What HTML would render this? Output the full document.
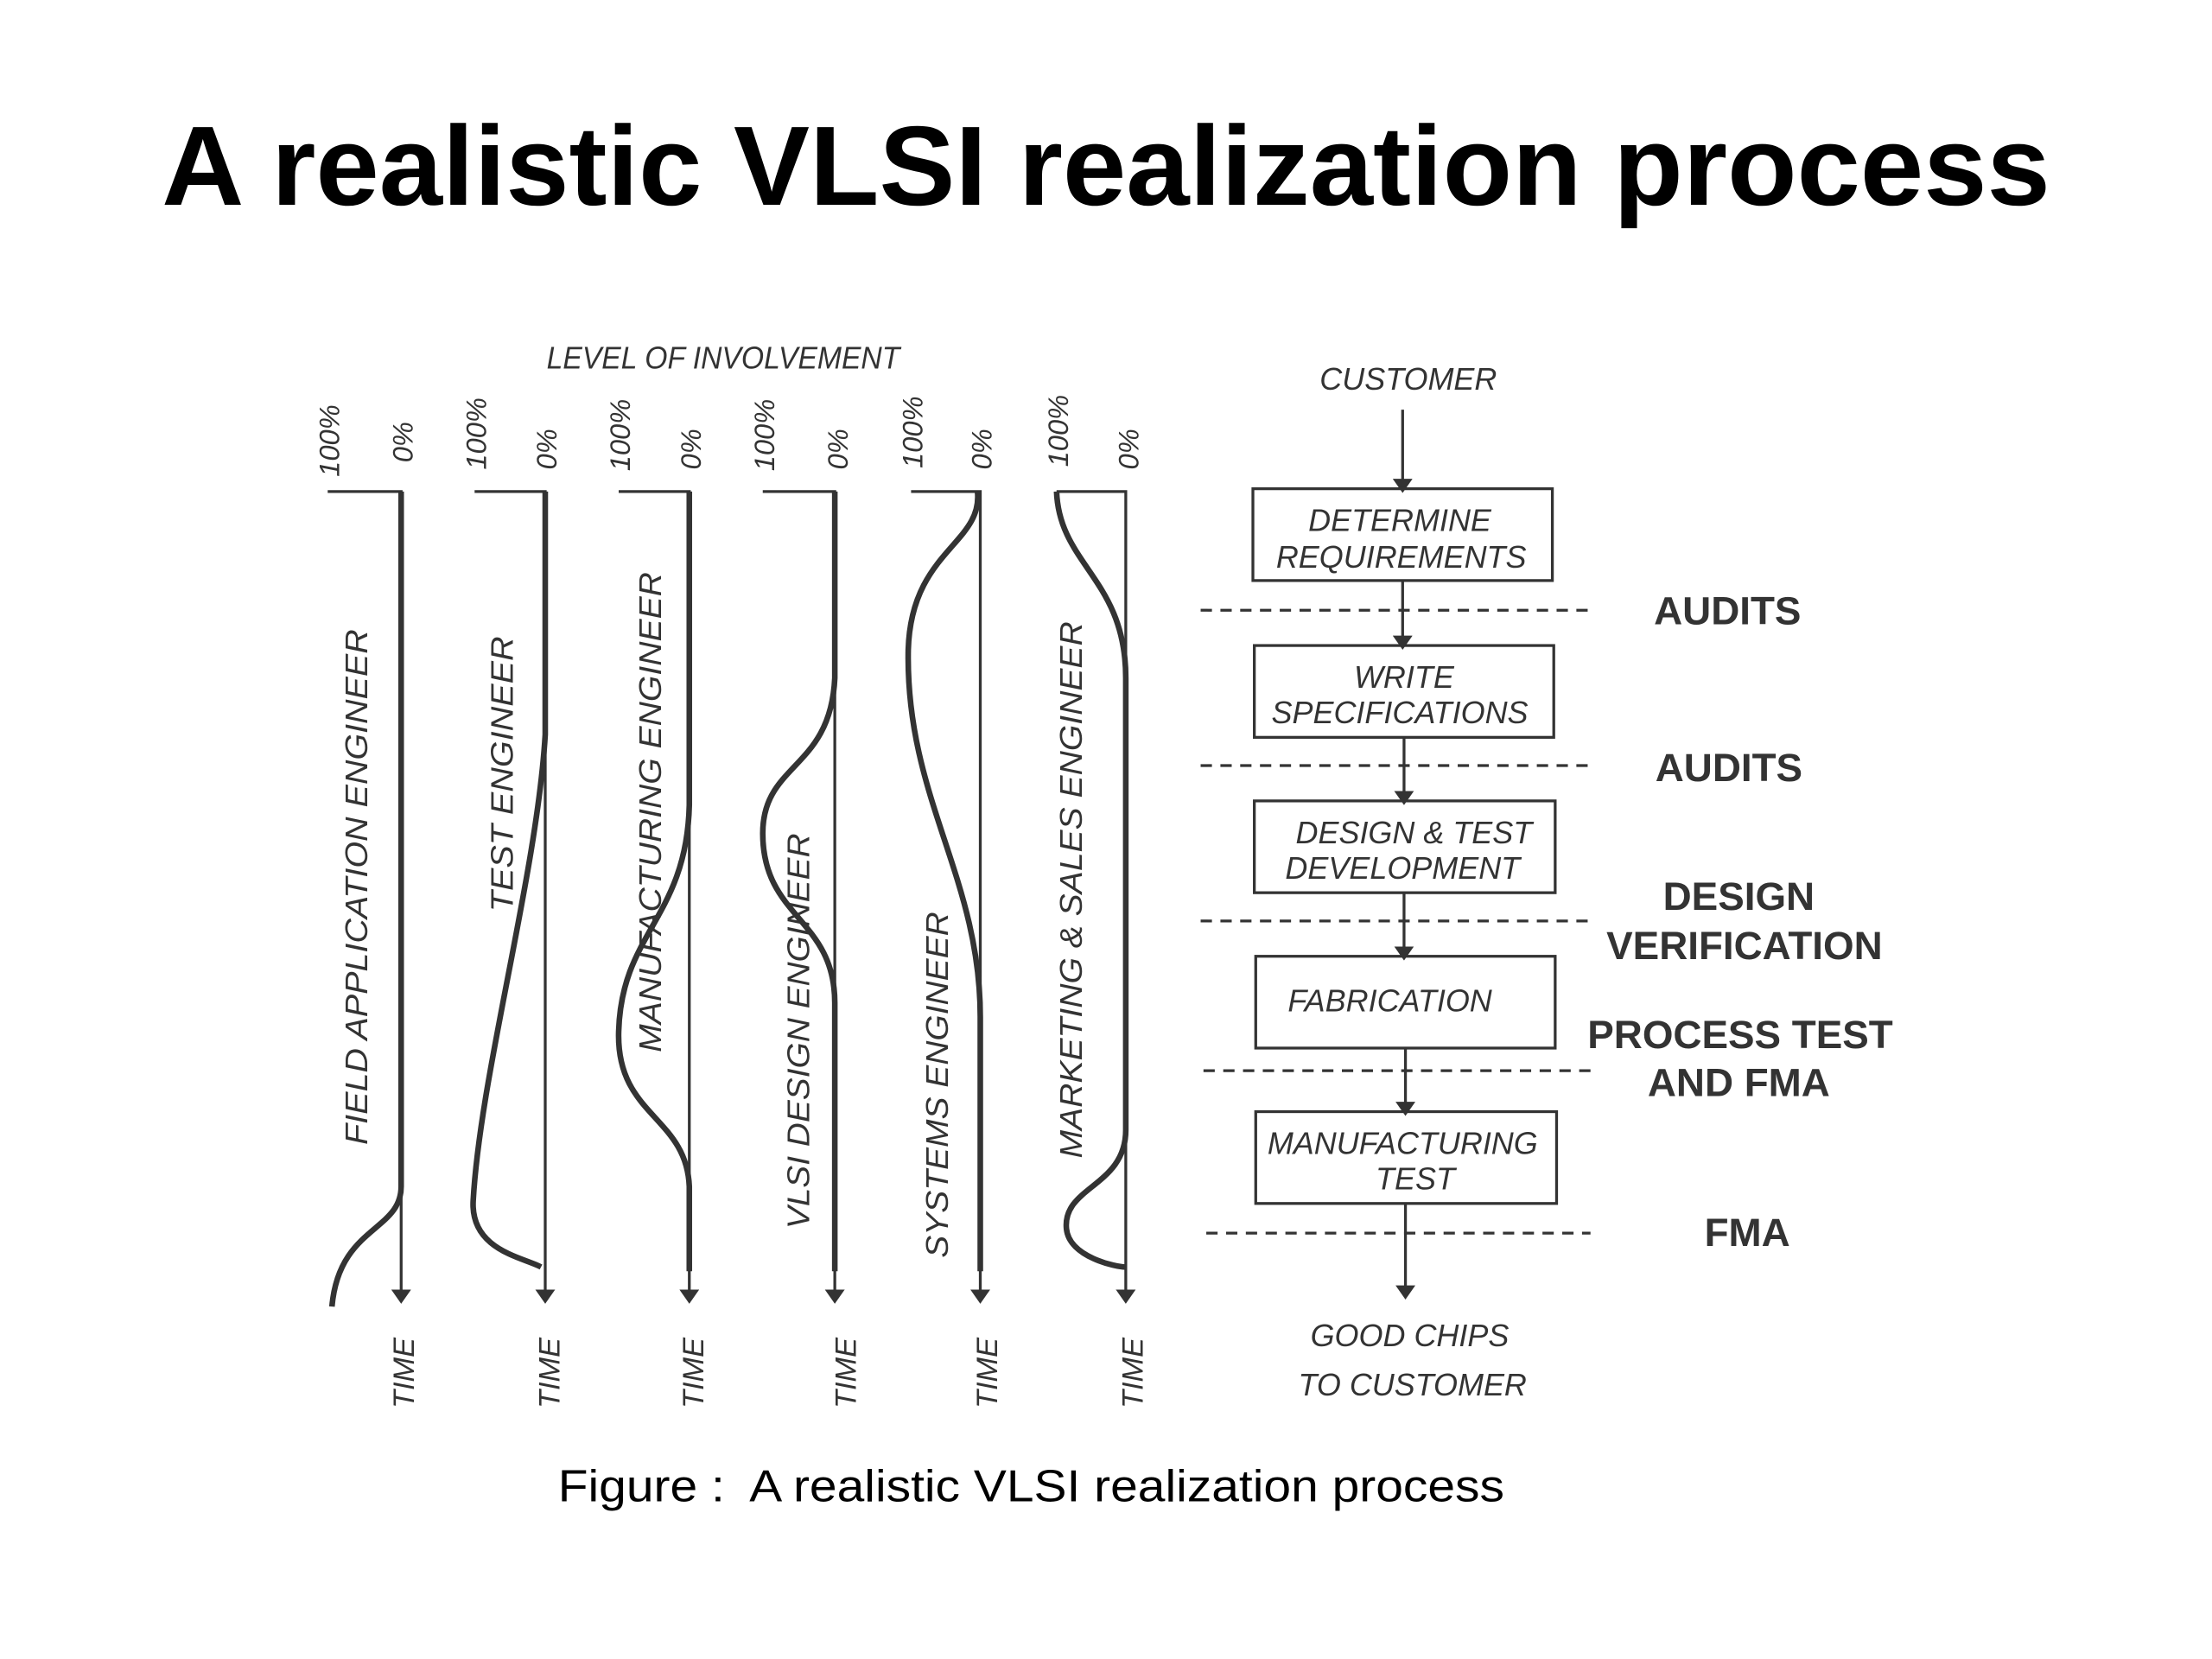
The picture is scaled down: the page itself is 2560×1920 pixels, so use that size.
<!DOCTYPE html>
<html><head><meta charset="utf-8"><style>
html,body{margin:0;padding:0;background:#fff;}
svg{display:block;}
</style></head><body>
<svg width="2560" height="1920" viewBox="0 0 1566 1174.5" preserveAspectRatio="none" xmlns="http://www.w3.org/2000/svg">
<rect width="1570" height="1180" fill="#fff"/>
<defs>
<marker id="ad" markerWidth="10" markerHeight="14" refX="5" refY="7" orient="auto" markerUnits="userSpaceOnUse">
<path d="M0,0 L10,7 L0,14 Z" fill="#333"/>
</marker>
</defs>
<text x="783" y="145" text-anchor="middle" font-family="Liberation Sans, sans-serif" font-weight="bold" font-size="80" textLength="1337" lengthAdjust="spacingAndGlyphs" fill="#000">A realistic VLSI realization process</text>

<text x="512" y="261" text-anchor="middle" font-family="Liberation Sans, sans-serif" font-style="italic" font-size="22" fill="#333" textLength="250" lengthAdjust="spacingAndGlyphs">LEVEL OF INVOLVEMENT</text>

<g stroke="#333" fill="none">
<g stroke-width="2">
<path d="M232,348 L284,348 L284,918" marker-end="url(#ad)"/>
<path d="M336,348 L386,348 L386,918" marker-end="url(#ad)"/>
<path d="M438,348 L488,348 L488,918" marker-end="url(#ad)"/>
<path d="M540,348 L591,348 L591,918" marker-end="url(#ad)"/>
<path d="M645,348 L694,348 L694,918" marker-end="url(#ad)"/>
<path d="M748,348 L797,348 L797,918" marker-end="url(#ad)"/>
</g>
<g stroke-width="4">
<path d="M284,348 L284,840 C284,872 240,868 235,925"/>
<path d="M386,348 L386,520 C380,620 340,760 335,850 C333,885 370,890 383,897"/>
<path d="M488,348 L488,570 C486,650 440,660 438,730 C436,790 486,790 488,840 L488,900"/>
<path d="M591,348 L591,480 C588,545 540,540 540,590 C540,650 591,650 591,710 L591,900"/>
<path d="M692,348 C696,385 645,390 643,460 C641,565 694,620 694,720 L694,900"/>
<path d="M748,348 C750,400 797,410 797,480 L797,800 C797,840 752,840 755,870 C757,890 790,897 797,897"/>
</g>
</g>

<g font-family="Liberation Sans, sans-serif" font-style="italic" font-size="20" fill="#333">
<text transform="translate(240,312) rotate(-90)" text-anchor="middle">100%</text>
<text transform="translate(292,313) rotate(-90)" text-anchor="middle">0%</text>
<text transform="translate(344,307) rotate(-90)" text-anchor="middle">100%</text>
<text transform="translate(394,318) rotate(-90)" text-anchor="middle">0%</text>
<text transform="translate(446,308) rotate(-90)" text-anchor="middle">100%</text>
<text transform="translate(496,318) rotate(-90)" text-anchor="middle">0%</text>
<text transform="translate(548,308) rotate(-90)" text-anchor="middle">100%</text>
<text transform="translate(600,318) rotate(-90)" text-anchor="middle">0%</text>
<text transform="translate(653,306) rotate(-90)" text-anchor="middle">100%</text>
<text transform="translate(702,318) rotate(-90)" text-anchor="middle">0%</text>
<text transform="translate(756,305) rotate(-90)" text-anchor="middle">100%</text>
<text transform="translate(806,318) rotate(-90)" text-anchor="middle">0%</text>
</g>
<g font-family="Liberation Sans, sans-serif" font-style="italic" font-size="21" fill="#333">
<text transform="translate(293,972) rotate(-90)" text-anchor="middle">TIME</text>
<text transform="translate(396,972) rotate(-90)" text-anchor="middle">TIME</text>
<text transform="translate(498,972) rotate(-90)" text-anchor="middle">TIME</text>
<text transform="translate(606,972) rotate(-90)" text-anchor="middle">TIME</text>
<text transform="translate(706,972) rotate(-90)" text-anchor="middle">TIME</text>
<text transform="translate(809,972) rotate(-90)" text-anchor="middle">TIME</text>
</g>
<g font-family="Liberation Sans, sans-serif" font-style="italic" font-size="22" fill="#333">
<text transform="translate(260,628) rotate(-90)" text-anchor="middle" textLength="365" lengthAdjust="spacingAndGlyphs">FIELD APPLICATION ENGINEER</text>
<text transform="translate(363,548) rotate(-90)" text-anchor="middle" textLength="195" lengthAdjust="spacingAndGlyphs">TEST ENGINEER</text>
<text transform="translate(468,575) rotate(-90)" text-anchor="middle" textLength="340" lengthAdjust="spacingAndGlyphs">MANUFACTURING ENGINEER</text>
<text transform="translate(573,730) rotate(-90)" text-anchor="middle" textLength="280" lengthAdjust="spacingAndGlyphs">VLSI DESIGN ENGINEER</text>
<text transform="translate(671,768) rotate(-90)" text-anchor="middle" textLength="245" lengthAdjust="spacingAndGlyphs">SYSTEMS ENGINEER</text>
<text transform="translate(766,630) rotate(-90)" text-anchor="middle" textLength="380" lengthAdjust="spacingAndGlyphs">MARKETING &amp; SALES ENGINEER</text>
</g>

<g stroke="#333" stroke-width="2" fill="none">
<line x1="993" y1="290" x2="993" y2="344" marker-end="url(#ad)"/>
<rect x="887" y="346" width="212" height="65"/>
<rect x="888" y="457" width="212" height="65"/>
<rect x="888" y="567" width="213" height="65"/>
<rect x="889" y="677" width="212" height="65"/>
<rect x="889" y="787" width="213" height="65"/>
<line x1="993" y1="411" x2="993" y2="455" marker-end="url(#ad)"/>
<line x1="994" y1="522" x2="994" y2="565" marker-end="url(#ad)"/>
<line x1="994" y1="632" x2="994" y2="675" marker-end="url(#ad)"/>
<line x1="995" y1="742" x2="995" y2="785" marker-end="url(#ad)"/>
<line x1="995" y1="852" x2="995" y2="915" marker-end="url(#ad)"/>
<g stroke-dasharray="8,6">
<line x1="850" y1="432" x2="1126" y2="432"/>
<line x1="850" y1="542" x2="1126" y2="542"/>
<line x1="850" y1="652" x2="1126" y2="652"/>
<line x1="852" y1="758" x2="1126" y2="758"/>
<line x1="854" y1="873" x2="1126" y2="873"/>
</g>
</g>
<g font-family="Liberation Sans, sans-serif" font-style="italic" font-size="22" fill="#333" text-anchor="middle">
<text x="997" y="276">CUSTOMER</text>
<text x="991" y="376">DETERMINE</text>
<text x="992" y="402">REQUIREMENTS</text>
<text x="994" y="487">WRITE</text>
<text x="991" y="512">SPECIFICATIONS</text>
<text x="1001" y="597">DESIGN &amp; TEST</text>
<text x="993" y="622">DEVELOPMENT</text>
<text x="984" y="716">FABRICATION</text>
<text x="993" y="817">MANUFACTURING</text>
<text x="1002" y="842">TEST</text>
<text x="998" y="953">GOOD CHIPS</text>
<text x="1000" y="988">TO CUSTOMER</text>
</g>
<g font-family="Liberation Sans, sans-serif" font-weight="bold" font-size="28" fill="#333" text-anchor="middle">
<text x="1223" y="442">AUDITS</text>
<text x="1224" y="553">AUDITS</text>
<text x="1231" y="644">DESIGN</text>
<text x="1235" y="679">VERIFICATION</text>
<text x="1232" y="742">PROCESS TEST</text>
<text x="1231" y="776">AND FMA</text>
<text x="1237" y="882">FMA</text>
</g>
<text x="395" y="1063" font-family="Liberation Sans, sans-serif" font-size="32" fill="#000" textLength="670" lengthAdjust="spacingAndGlyphs" xml:space="preserve">Figure :  A realistic VLSI realization process</text>
</svg>
</body></html>
